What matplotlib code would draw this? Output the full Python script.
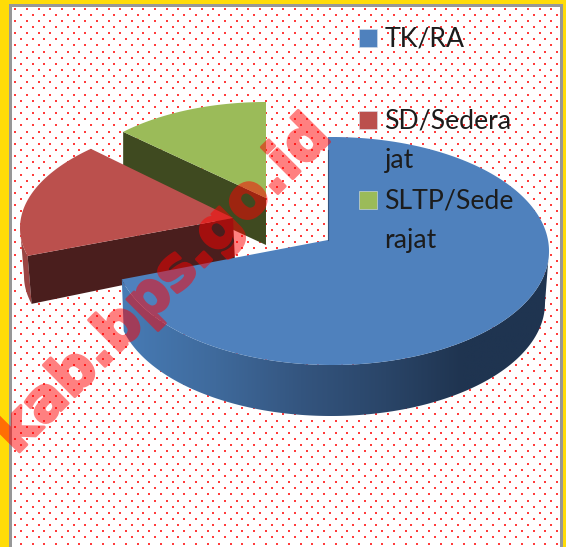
import numpy as np
import matplotlib
matplotlib.use('Agg')
import matplotlib.pyplot as plt
import matplotlib.patheffects as pe
from matplotlib.colors import LinearSegmentedColormap
from matplotlib.patches import Polygon, Rectangle

# data
labels = ['TK/RA', 'SD/Sedera\njat', 'SLTP/Sede\nrajat']
values = [71.0, 16.5, 12.5]
watermark = 'kab.bps.go.id'

# colours for top faces and side faces
top_colors = ['#4f81bd', '#bb504d', '#9bbb59']
side_colors = ['#1f3450', '#4a1e1d', '#3f4a20']

W, H = 566, 547
fig = plt.figure(figsize=(W / 100, H / 100), dpi=100)
ax = fig.add_axes([0, 0, 1, 1])
ax.set_xlim(0, W)
ax.set_ylim(H, 0)
ax.axis('off')

# frame
ax.add_patch(Rectangle((0, 0), W, H, fc='#ffdc08', ec='none', zorder=0))
ax.add_patch(Rectangle((9, 4), 554, H, fc='#979797', ec='none', zorder=0.1))
ax.add_patch(Rectangle((12, 7), 548, H, fc='white', ec='none', zorder=0.2))

# dotted paper
gx, gy = np.meshgrid(np.arange(0, 50), np.arange(0, 90))
dx = 15.3 + gx * 11.65 + (gy % 2) * 5.82
dy = 8.5 + gy * 6.15
keep = (dx > 12) & (dx < 560)
ax.scatter(dx[keep], dy[keep], s=3.6, marker='s', c='#ffb4b4', linewidths=0, zorder=0.3)
ax.scatter(dx[keep], dy[keep], s=1.1, marker='s', c='#ff3c3c', linewidths=0, zorder=0.31)


def arc(cx, cy, a, b, t0, t1, n=120):
    # angle clockwise from the top of the ellipse
    t = np.radians(np.linspace(t0, t1, n))
    return np.column_stack([cx + a * np.sin(t), cy - b * np.cos(t)])


def half_alpha(image, dpi):
    # makes the thick watermark see-through without double blending on its outline
    image = image.copy()
    image[..., 3] *= 0.5
    return image, 0, 0


edges = np.cumsum([0] + values) / sum(values) * 360

# slice geometry: ellipse centre and radii, apex, depth
blue = dict(cx=332, cy=251, a=217, b=114, apex=(328, 240))
red = dict(cx=262, cy=228, a=242, b=112, apex=(233, 218))
green = dict(cx=266, cy=204, a=202, b=102, apex=(266, 198))

# green slice
g_top = arc(green['cx'], green['cy'], green['a'], green['b'], edges[2], edges[3])
g_side = [g_top[0], green['apex'], (green['apex'][0], green['apex'][1] + 47), g_top[0] + [0, 47]]
ax.add_patch(Polygon(g_side, fc=side_colors[2], ec='none', zorder=2))
ax.add_patch(Polygon(np.vstack([g_top, green['apex']]), fc=top_colors[2], ec='none', zorder=2.1))

# red slice
r_top = arc(red['cx'], red['cy'], red['a'], red['b'], edges[1], edges[2])
r_wall_top = arc(red['cx'], red['cy'], red['a'], red['b'], edges[1], 270, 30)
r_wall_bot = r_wall_top[::-1] + [4, 48]
ax.add_patch(Polygon(np.vstack([r_wall_top, r_wall_bot]), fc='#9a4543', ec='none', zorder=3))
r_side = [r_top[0], red['apex'], (red['apex'][0] + 2, red['apex'][1] + 44), r_top[0] + [4, 48]]
ax.add_patch(Polygon(r_side, fc=side_colors[1], ec='none', zorder=3.1))
ax.add_patch(Polygon(np.vstack([r_top, red['apex']]), fc=top_colors[1], ec='none', zorder=3.2))

# blue slice, wall has a horizontal gradient
b_top = arc(blue['cx'], blue['cy'], blue['a'], blue['b'], edges[0], edges[1], 300)
wall_top = arc(blue['cx'], blue['cy'], blue['a'], blue['b'], 90, edges[1], 200)
wall_bot = arc(blue['cx'] - 1, blue['cy'] + 52, blue['a'] - 3, blue['b'] - 1, 90, edges[1], 200)
wall = Polygon(np.vstack([wall_top, wall_bot[::-1]]), fc='none', ec='none', zorder=4)
ax.add_patch(wall)
wall_cmap = LinearSegmentedColormap.from_list(
    'wall', [(0, '#477bb5'), (0.22, '#3f6a9c'), (0.42, '#34557f'), (0.62, '#2a4568'),
             (0.8, '#1f3450'), (1, '#1f3450')])
grad = ax.imshow(np.linspace(0, 1, 256)[None, :], extent=(121, 549, 420, 250),
                 cmap=wall_cmap, aspect='auto', zorder=4.1)
grad.set_clip_path(wall)
ax.set_xlim(0, W)
ax.set_ylim(H, 0)
ax.add_patch(Polygon(np.vstack([[(328, 137)], b_top, [blue['apex']]]), fc=top_colors[0], ec='none', zorder=4.2))
ax.plot([328.4, 328.4], [150, 240], color='#34557f', lw=0.8, zorder=4.3)

# legend, written by hand because the text wraps
legend_y = [38, 120, 200]
line_gap = 39
for name, col, y in zip(labels, top_colors, legend_y):
    ax.add_patch(Rectangle((359, y - 9), 18, 18, fc=col, ec='#d8e0ea', lw=0.4, zorder=5))
    for i, part in enumerate(name.split('\n')):
        ax.text(384.5, y + 1.5 + i * line_gap, part, family='Lato', fontsize=19.2,
                color='#1c1c1c', va='center', ha='left', zorder=5.1)

# watermark goes over everything, frame too
mark = ax.text(163, 285, watermark, family='DejaVu Sans', weight='bold', fontsize=42, color='red',
               rotation=45, rotation_mode='anchor', ha='center', va='center', zorder=6)
mark.set_path_effects([pe.withStroke(linewidth=2.2, foreground='red')])
mark.set_agg_filter(half_alpha)

fig.savefig('out.png', dpi=100)
